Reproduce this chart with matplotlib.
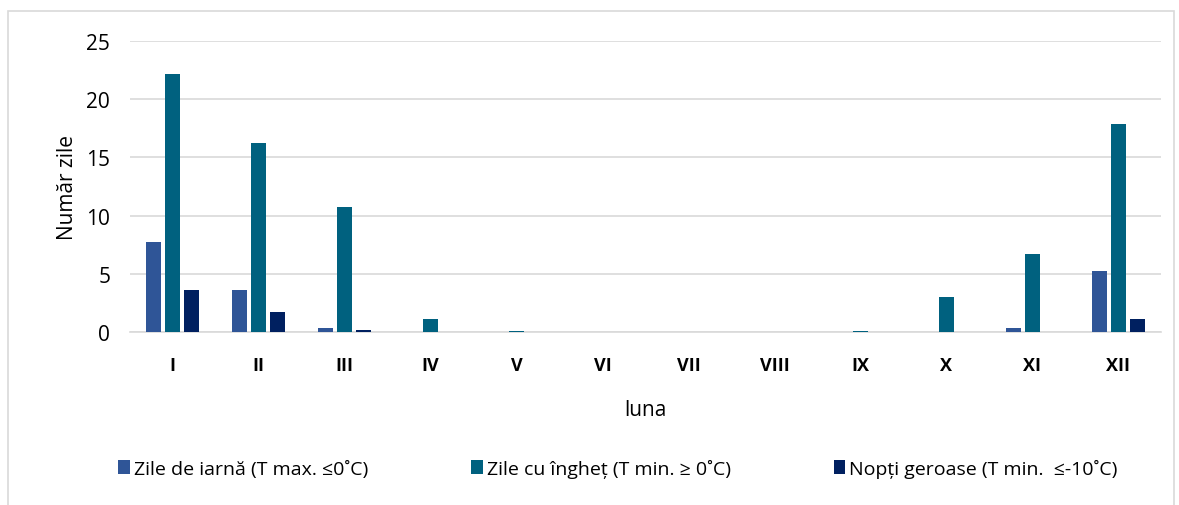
import matplotlib.pyplot as plt
from matplotlib.patches import Rectangle
import numpy as np

plt.rcParams['font.family'] = ['Open Sans', 'DejaVu Sans']

luni = ["I", "II", "III", "IV", "V", "VI", "VII", "VIII", "IX", "X", "XI", "XII"]
zile_iarna = [7.7, 3.6, 0.3, 0, 0, 0, 0, 0, 0, 0, 0.3, 5.2]
zile_inghet = [22.2, 16.2, 10.7, 1.1, 0.1, 0, 0, 0, 0.1, 3.0, 6.7, 17.9]
nopti_geroase = [3.6, 1.7, 0.2, 0, 0, 0, 0, 0, 0, 0, 0, 1.1]

labels = ["Zile de iarnă (T max. ≤0˚C)",
          "Zile cu îngheț (T min. ≥ 0˚C)",
          "Nopți geroase (T min.  ≤-10˚C)"]
colors = ["#2F5597", "#00617F", "#002060"]

fig = plt.figure(figsize=(11.79, 5.06), dpi=100)
ax = fig.add_axes([0.110, 0.342, 0.875, 0.575])

x = np.arange(len(luni))
w = 0.18
step = 0.22
for i, (vals, lab, col) in enumerate(zip([zile_iarna, zile_inghet, nopti_geroase], labels, colors)):
    ax.bar(x + (i - 1) * step, vals, width=w, color=col, label=lab, zorder=3)

ax.set_xlim(-0.5, len(luni) - 0.5)
ax.set_ylim(0, 25)
ax.set_yticks([0, 5, 10, 15, 20, 25])
ax.set_xticks(x)
ax.set_xticklabels(luni, fontweight="bold", fontsize=13)
ax.tick_params(axis="y", labelsize=15, length=0, pad=14)
ax.tick_params(axis="x", length=0, pad=17)
ax.grid(axis="y", color="#D9D9D9", linewidth=1.2, zorder=0)
for s in ["top", "right", "left"]:
    ax.spines[s].set_visible(False)
ax.spines["bottom"].set_color("#D9D9D9")
ax.spines["bottom"].set_linewidth(1.2)

ax.set_ylabel("Număr zile", fontsize=15, labelpad=6)
ax.set_xlabel("luna", fontsize=15, labelpad=18)

fig.legend(loc="center", bbox_to_anchor=(0.524, 0.072), ncol=3, frameon=False,
           fontsize=14, handlelength=0.6, handleheight=0.7, handletextpad=0.2,
           columnspacing=5.3)

fig.patches.append(Rectangle((8 / 1179, -0.02), 1166 / 1179, 1.02 - 12 / 506,
                             transform=fig.transFigure, fill=False,
                             edgecolor="#D9D9D9", linewidth=1.2))

plt.savefig("out.png", dpi=100)
